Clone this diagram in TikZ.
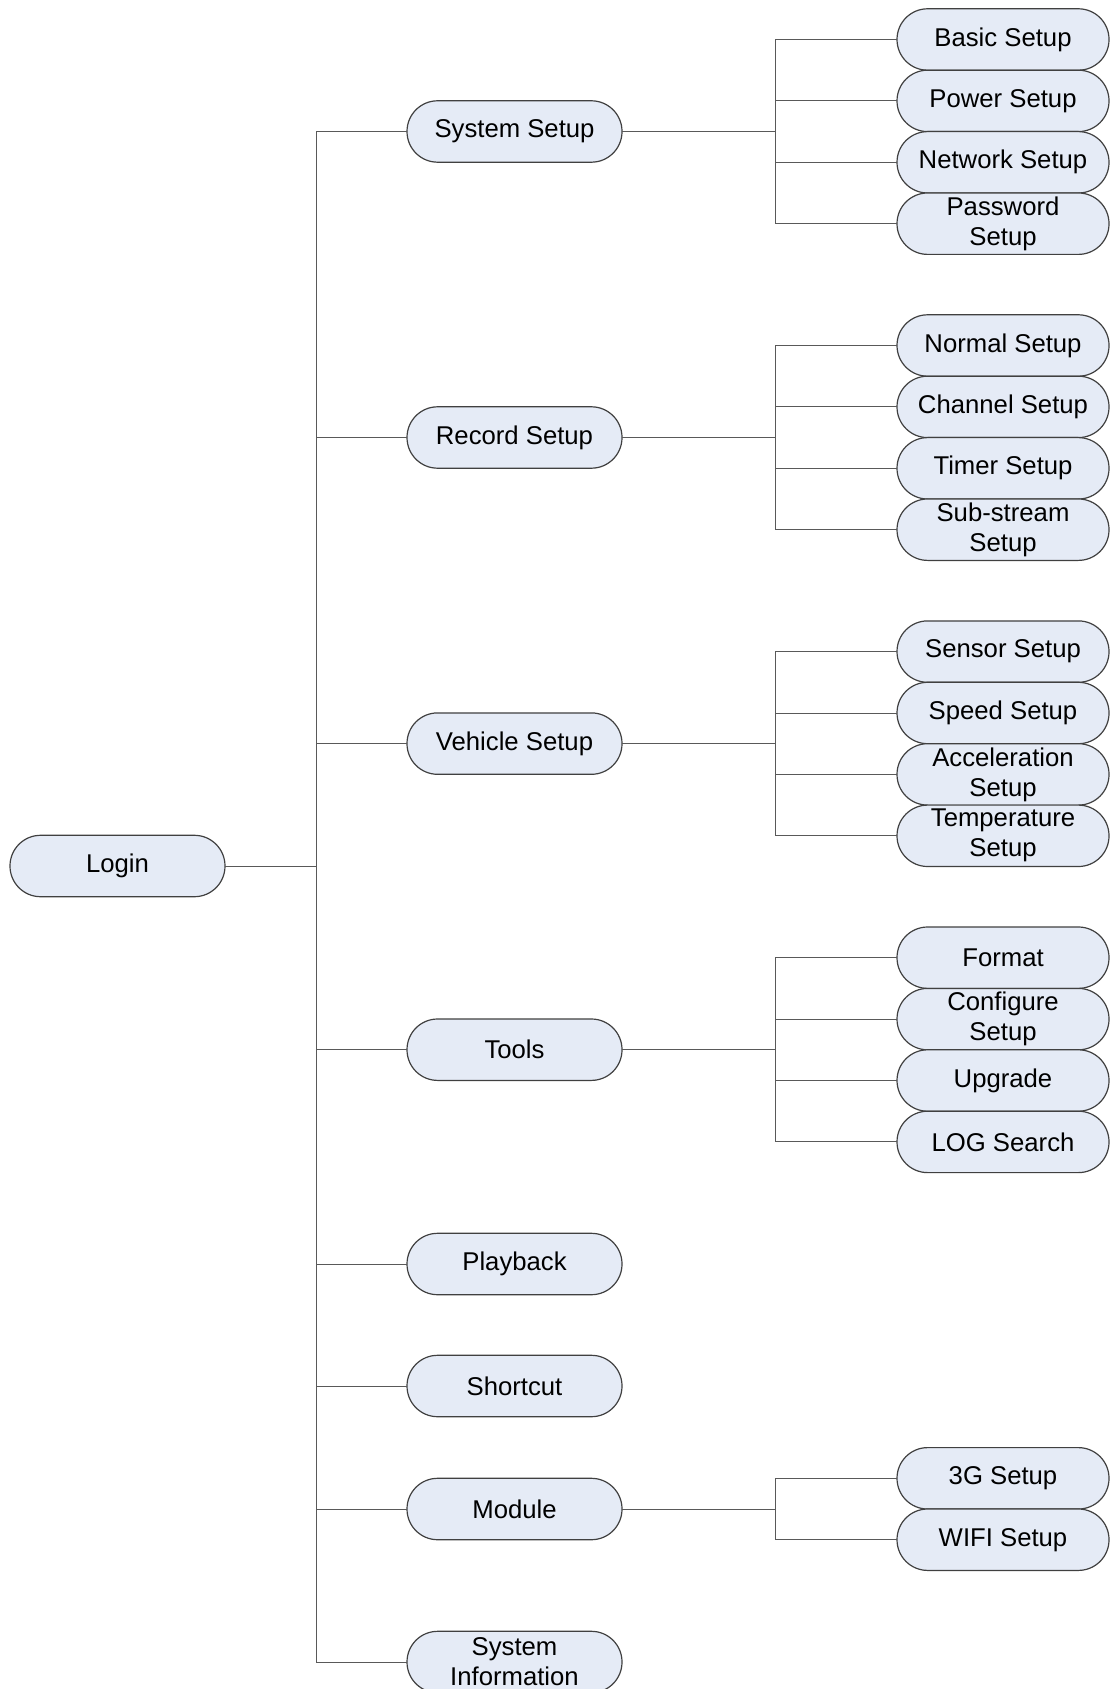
\documentclass[tikz,border=0pt]{standalone}
\usepackage{fontspec}
\setmainfont{Liberation Sans}
\usepackage{tikz}
\usetikzlibrary{positioning}
\definecolor{ink}{HTML}{000000}
\definecolor{edge}{HTML}{404040}
\definecolor{linegray}{HTML}{595959}
\definecolor{boxfill}{HTML}{E5EBF6}
\tikzset{
  menubox/.style={rectangle,rounded corners=15.3pt,draw=edge,line width=0.6pt,
    fill=boxfill,text=ink,align=center,font=\fontsize{12.85}{15}\selectfont,
    minimum height=30.7pt,minimum width=107.5pt,inner sep=0pt,outer sep=0pt},
  leafbox/.style={menubox,minimum width=106pt},
  menuline/.style={line width=0.5pt,color=linegray},
}
\begin{document}
\begin{tikzpicture}[x=0.5pt,y=-0.5pt,node distance=0pt]
  \useasboundingbox (0,0) rectangle (1110,1689);
  \node[menubox] (login) at (117.5,866) {Login};
  \node[menubox] (sys) at (514.5,131.5) {System Setup};
  \node[menubox] (rec) at (514.5,437.5) {Record Setup};
  \node[menubox] (veh) at (514.5,743.6) {Vehicle Setup};
  \node[menubox] (tools) at (514.5,1049.7) {Tools};
  \node[menubox] (play) at (514.5,1264) {Playback};
  \node[menubox] (short) at (514.5,1386) {Shortcut};
  \node[menubox] (mod) at (514.5,1509) {Module};
  \node[menubox] (info) at (514.5,1662) {System\\Information};

  \node[leafbox] (basic) at ([shift={(244.25pt,46pt)}]sys.center) {Basic Setup};
  \node[leafbox,below=of basic] (power) {Power Setup};
  \node[leafbox,below=of power] (net) {Network Setup};
  \node[leafbox,below=of net] (pass) {Password\\Setup};

  \node[leafbox] (normal) at ([shift={(244.25pt,46pt)}]rec.center) {Normal Setup};
  \node[leafbox,below=of normal] (chan) {Channel Setup};
  \node[leafbox,below=of chan] (timer) {Timer Setup};
  \node[leafbox,below=of timer] (sub) {Sub-stream\\Setup};

  \node[leafbox] (sensor) at ([shift={(244.25pt,46pt)}]veh.center) {Sensor Setup};
  \node[leafbox,below=of sensor] (speed) {Speed Setup};
  \node[leafbox,below=of speed] (acc) {Acceleration\\Setup};
  \node[leafbox,below=of acc] (temp) {Temperature\\Setup};

  \node[leafbox] (format) at ([shift={(244.25pt,46pt)}]tools.center) {Format};
  \node[leafbox,below=of format] (conf) {Configure\\Setup};
  \node[leafbox,below=of conf] (upg) {Upgrade};
  \node[leafbox,below=of upg] (log) {LOG Search};

  \node[leafbox] (g3) at ([shift={(244.25pt,15.35pt)}]mod.center) {3G Setup};
  \node[leafbox,below=of g3] (wifi) {WIFI Setup};

  % login to second level
  \draw[menuline] (login.east) -| ([xshift=-45.5pt]sys.west) -- (sys.west);
  \draw[menuline] (login.east) -| ([xshift=-45.5pt]rec.west) -- (rec.west);
  \draw[menuline] (login.east) -| ([xshift=-45.5pt]veh.west) -- (veh.west);
  \draw[menuline] (login.east) -| ([xshift=-45.5pt]tools.west) -- (tools.west);
  \draw[menuline] (login.east) -| ([xshift=-45.5pt]play.west) -- (play.west);
  \draw[menuline] (login.east) -| ([xshift=-45.5pt]short.west) -- (short.west);
  \draw[menuline] (login.east) -| ([xshift=-45.5pt]mod.west) -- (mod.west);
  \draw[menuline] (login.east) -| ([xshift=-45.5pt]info.west) -- (info.west);

  % second level to leaves
  \draw[menuline] (sys.east) -| ([xshift=-61pt]basic.west) -- (basic.west);
  \draw[menuline] (sys.east) -| ([xshift=-61pt]power.west) -- (power.west);
  \draw[menuline] (sys.east) -| ([xshift=-61pt]net.west) -- (net.west);
  \draw[menuline] (sys.east) -| ([xshift=-61pt]pass.west) -- (pass.west);
  \draw[menuline] (rec.east) -| ([xshift=-61pt]normal.west) -- (normal.west);
  \draw[menuline] (rec.east) -| ([xshift=-61pt]chan.west) -- (chan.west);
  \draw[menuline] (rec.east) -| ([xshift=-61pt]timer.west) -- (timer.west);
  \draw[menuline] (rec.east) -| ([xshift=-61pt]sub.west) -- (sub.west);
  \draw[menuline] (veh.east) -| ([xshift=-61pt]sensor.west) -- (sensor.west);
  \draw[menuline] (veh.east) -| ([xshift=-61pt]speed.west) -- (speed.west);
  \draw[menuline] (veh.east) -| ([xshift=-61pt]acc.west) -- (acc.west);
  \draw[menuline] (veh.east) -| ([xshift=-61pt]temp.west) -- (temp.west);
  \draw[menuline] (tools.east) -| ([xshift=-61pt]format.west) -- (format.west);
  \draw[menuline] (tools.east) -| ([xshift=-61pt]conf.west) -- (conf.west);
  \draw[menuline] (tools.east) -| ([xshift=-61pt]upg.west) -- (upg.west);
  \draw[menuline] (tools.east) -| ([xshift=-61pt]log.west) -- (log.west);
  \draw[menuline] (mod.east) -| ([xshift=-61pt]g3.west) -- (g3.west);
  \draw[menuline] (mod.east) -| ([xshift=-61pt]wifi.west) -- (wifi.west);
\end{tikzpicture}
\end{document}
